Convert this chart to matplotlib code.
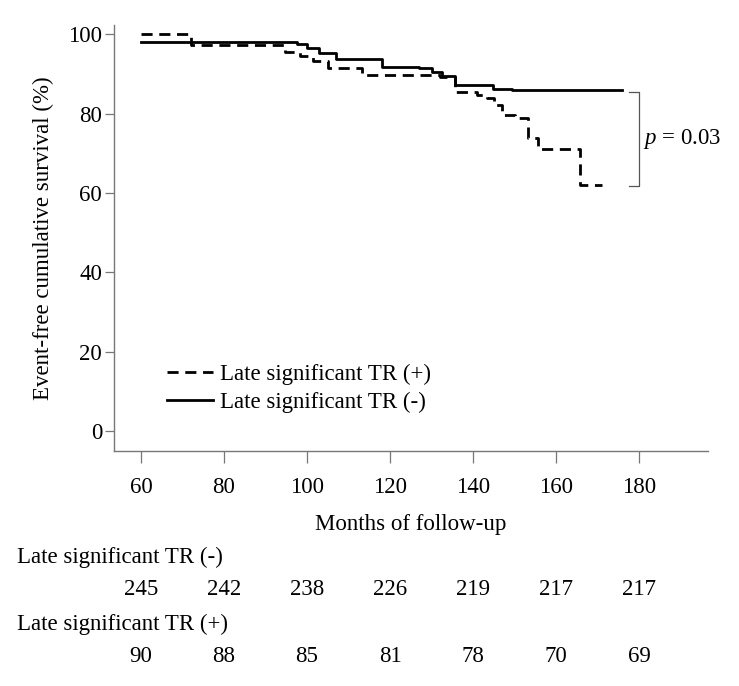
import numpy as np
import matplotlib
matplotlib.use('Agg')
import matplotlib.pyplot as plt
from matplotlib.transforms import blended_transform_factory

plt.rcParams['font.family'] = ['Liberation Serif', 'DejaVu Serif']
plt.rcParams['mathtext.fontset'] = 'custom'
plt.rcParams['mathtext.it'] = 'Liberation Serif:italic'

# step curves (months, % event-free)
t_pos = [60, 72, 94.7, 98.3, 101.5, 105, 113.3, 132, 135.7, 141, 143.4, 145, 147, 150, 153.3, 155.7, 165.8, 171]
s_pos = [100, 97.3, 95.5, 94.4, 93.3, 91.4, 89.6, 89.2, 85.5, 84.6, 83.8, 82.1, 79.6, 78.8, 73.8, 71, 62, 62]
t_neg = [60, 97.5, 100, 103, 107, 118, 127, 130, 132.5, 135.7, 144.8, 149.4, 176]
s_neg = [97.9, 97.4, 96.5, 95.2, 93.7, 91.8, 91.4, 90.5, 89.4, 87.2, 86.1, 85.8, 85.8]

label_pos = 'Late significant TR (+)'
label_neg = 'Late significant TR (-)'
p_text = '$p$ = 0.03'

x_ticks = [60, 80, 100, 120, 140, 160, 180]
y_ticks = [0, 20, 40, 60, 80, 100]
at_risk_neg = [245, 242, 238, 226, 219, 217, 217]
at_risk_pos = [90, 88, 85, 81, 78, 70, 69]

fs = 16.5

fig = plt.figure(figsize=(7.39, 6.86), dpi=100)
ax = fig.add_axes([0.1543, 0.3426, 0.8037, 0.621])

ax.step(t_pos, s_pos, where='post', color='black', lw=2.0, dashes=(4, 2.4), label=label_pos)
ax.step(t_neg, s_neg, where='post', color='black', lw=2.0, label=label_neg)

# p-value bracket
ax.plot([177.6, 180, 180, 177.6], [85.4, 85.4, 61.7, 61.7], color='#555555', lw=0.9)
ax.text(181.0, 73.5, p_text, fontsize=fs, va='center', ha='left')

ax.set_xlim(53.5, 196.6)
ax.set_ylim(-5, 102.3)
ax.set_xticks(x_ticks)
ax.set_yticks(y_ticks)
for side in ['top', 'right']:
    ax.spines[side].set_visible(False)
for side in ['left', 'bottom']:
    ax.spines[side].set_color('#777777')
    ax.spines[side].set_linewidth(1.0)
ax.tick_params(axis='x', length=8.6, width=0.9, color='#777777', labelsize=fs, pad=10)
ax.tick_params(axis='y', length=6.5, width=0.9, color='#777777', labelsize=fs, pad=2)

ax.set_xlabel('Months of follow-up', fontsize=fs, labelpad=12)
ax.set_ylabel('Event-free cumulative survival (%)', fontsize=fs, labelpad=10)

ax.legend(loc='lower left', bbox_to_anchor=(0.089, 0.088), frameon=False, fontsize=fs,
          handlelength=2.0, handletextpad=0.3, labelspacing=0.3, borderpad=0, borderaxespad=0)

# numbers at risk
tr = blended_transform_factory(ax.transData, fig.transFigure)
fig.text(0.023, 0.188, label_neg, fontsize=fs, va='center', ha='left')
fig.text(0.023, 0.0904, label_pos, fontsize=fs, va='center', ha='left')
for x, n1, n2 in zip(x_ticks, at_risk_neg, at_risk_pos):
    ax.text(x, 0.140, str(n1), transform=tr, fontsize=fs, ha='center', va='center', clip_on=False)
    ax.text(x, 0.0423, str(n2), transform=tr, fontsize=fs, ha='center', va='center', clip_on=False)

fig.savefig('out.png', dpi=100)
